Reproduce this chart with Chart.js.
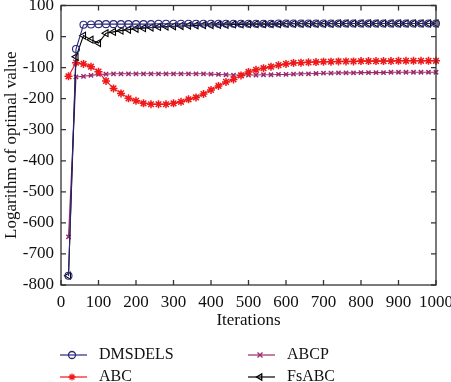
<!DOCTYPE html>
<html>
  <head>
    <title>Convergence</title>
    <script src="https://cdn.jsdelivr.net/npm/chart.js"></script>
    <style>
      html, body { margin: 0; padding: 0; background: #fff; }
      .grafico { width: 451px; height: 382px; }
    </style>
  </head>

  <body>
    <div class="grafico">
      <canvas id="convergencia"></canvas>
    </div>

    <script>
      var iteracoes = [20, 40, 60, 80, 100, 120, 140, 160, 180, 200,
        220, 240, 260, 280, 300, 320, 340, 360, 380, 400,
        420, 440, 460, 480, 500, 520, 540, 560, 580, 600,
        620, 640, 660, 680, 700, 720, 740, 760, 780, 800,
        820, 840, 860, 880, 900, 920, 940, 960, 980, 1000];

      var dmsdels = [-770, -40, 38, 39, 40, 40, 40, 40, 40, 40,
        40, 40, 41, 41, 41, 41, 41, 41, 41, 41,
        41, 41, 41, 41, 41, 41, 41, 41, 42, 42,
        42, 42, 42, 42, 42, 42, 42, 42, 42, 42,
        42, 42, 42, 42, 42, 42, 42, 42, 42, 42];

      var abc = [-128, -84, -88, -97, -113, -143, -167, -183, -199, -207,
        -215, -218, -218, -218, -215, -210, -202, -196, -185, -172,
        -159, -146, -138, -125, -114, -107, -102, -97, -92, -88,
        -85, -84, -83, -82, -81, -81, -80, -80, -80, -79,
        -79, -79, -79, -79, -78, -78, -78, -78, -78, -78];

      var abcp = [-645, -130, -128, -125, -122, -121, -120, -120, -120, -120,
        -120, -120, -120, -120, -120, -120, -120, -120, -120, -121,
        -122, -123, -124, -124, -124, -124, -123, -123, -122, -122,
        -121, -120, -120, -119, -118, -118, -117, -117, -117, -116,
        -116, -116, -116, -115, -115, -115, -115, -115, -115, -115];

      var fsabc = [-770, -65, 3, -10, -21, 11, 15, 19, 22, 25,
        27, 29, 31, 32, 33, 34, 35, 36, 37, 37,
        38, 38, 39, 39, 40, 40, 40, 40, 40, 41,
        41, 41, 41, 41, 41, 41, 42, 42, 42, 42,
        42, 42, 42, 42, 42, 42, 42, 42, 42, 42];

      var xTicks = [0, 100, 200, 300, 400, 500, 600, 700, 800, 900, 1000];
      var yTicks = [100, 0, -100, -200, -300, -400, -500, -600, -700, -800];

      var fonte = "'Liberation Serif', 'DejaVu Serif', serif";

      function pontos(valores) {
        return valores.map((v, i) => ({ x: iteracoes[i], y: v }));
      }

      // ticks para dentro nos quatro lados + caixa
      var moldura = {
        id: "moldura",
        afterDraw(chart) {
          var ctx = chart.ctx;
          var a = chart.chartArea;
          var sx = chart.scales.x;
          var sy = chart.scales.y;
          ctx.save();
          ctx.strokeStyle = "#333";
          ctx.lineWidth = 1.3;
          ctx.strokeRect(a.left, a.top, a.right - a.left, a.bottom - a.top);
          ctx.beginPath();
          xTicks.forEach((t) => {
            var px = sx.getPixelForValue(t);
            ctx.moveTo(px, a.bottom);
            ctx.lineTo(px, a.bottom - 5);
            ctx.moveTo(px, a.top);
            ctx.lineTo(px, a.top + 5);
          });
          yTicks.forEach((t) => {
            var py = sy.getPixelForValue(t);
            ctx.moveTo(a.left, py);
            ctx.lineTo(a.left + 5, py);
            ctx.moveTo(a.right, py);
            ctx.lineTo(a.right - 5, py);
          });
          ctx.stroke();

          // legenda em duas colunas
          var itens = [
            { ds: 0, x: 60, y: 355 },
            { ds: 2, x: 248, y: 355 },
            { ds: 1, x: 60, y: 377 },
            { ds: 3, x: 248, y: 377 },
          ];
          ctx.font = "16px " + fonte;
          ctx.textBaseline = "middle";
          ctx.textAlign = "left";
          itens.forEach((it) => {
            var d = chart.data.datasets[it.ds];
            ctx.strokeStyle = d.borderColor;
            ctx.lineWidth = 1.2;
            ctx.beginPath();
            ctx.moveTo(it.x, it.y);
            ctx.lineTo(it.x + 27, it.y);
            ctx.stroke();
            ctx.fillStyle = d.pointBackgroundColor;
            ctx.lineWidth = 1.3;
            Chart.helpers.drawPoint(ctx, {
              pointStyle: d.pointStyle,
              radius: 3.5,
              rotation: d.pointRotation || 0,
              borderWidth: 1.3,
            }, it.x + 12, it.y);
            ctx.fillStyle = "#111";
            ctx.fillText(d.label, it.x + 39, it.y);
          });
          ctx.restore();
        },
      };

      var grafico = new Chart(document.getElementById("convergencia"), {
        type: "line",
        data: {
          datasets: [
            {
              label: "DMSDELS",
              data: pontos(dmsdels),
              borderColor: "#2a2878",
              pointBorderColor: "#2a2878",
              pointBackgroundColor: "rgba(255,255,255,0)",
              pointStyle: "circle",
              pointRadius: 3.5,
              borderWidth: 1.1,
              order: 1,
            },
            {
              label: "ABC",
              data: pontos(abc),
              borderColor: "#f01818",
              pointBorderColor: "#f01818",
              pointBackgroundColor: "#f01818",
              pointStyle: "star",
              pointRadius: 4,
              pointBorderWidth: 1.5,
              borderWidth: 1.1,
              order: 3,
            },
            {
              label: "ABCP",
              data: pontos(abcp),
              borderColor: "#9a2a6c",
              pointBorderColor: "#9a2a6c",
              pointBackgroundColor: "#9a2a6c",
              pointStyle: "crossRot",
              pointRadius: 3,
              pointBorderWidth: 1.5,
              borderWidth: 1.1,
              order: 4,
            },
            {
              label: "FsABC",
              data: pontos(fsabc),
              borderColor: "#000",
              pointBorderColor: "#000",
              pointBackgroundColor: "rgba(255,255,255,0)",
              pointStyle: "triangle",
              pointRotation: -90,
              pointRadius: 4,
              borderWidth: 1.1,
              order: 2,
            },
          ],
        },
        options: {
          responsive: true,
          maintainAspectRatio: false,
          animation: false,
          layout: { padding: { top: 5, right: 15, bottom: 47, left: 0 } },
          elements: { line: { tension: 0 } },
          datasets: { line: { clip: false } },
          scales: {
            x: {
              type: "linear",
              min: 0,
              max: 1000,
              afterBuildTicks: (s) => { s.ticks = xTicks.map((v) => ({ value: v })); },
              afterFit: (s) => { s.height = 50; s.paddingLeft = 0; s.paddingRight = 0; },
              grid: { display: false, drawTicks: false },
              border: { display: false },
              ticks: {
                color: "#111",
                padding: 7,
                maxRotation: 0,
                autoSkip: false,
                callback: (v) => String(v),
                font: { family: fonte, size: 17 },
              },
              title: {
                display: true,
                text: "Iterations",
                color: "#111",
                padding: { top: 0, bottom: 4 },
                font: { family: fonte, size: 17 },
              },
            },
            y: {
              min: -800,
              max: 100,
              afterBuildTicks: (s) => { s.ticks = yTicks.map((v) => ({ value: v })); },
              afterFit: (s) => { s.width = 61; s.paddingTop = 0; s.paddingBottom = 0; },
              grid: { display: false, drawTicks: false },
              border: { display: false },
              ticks: {
                color: "#111",
                padding: 7,
                autoSkip: false,
                callback: (v) => String(v),
                font: { family: fonte, size: 17 },
              },
              title: {
                display: true,
                text: "Logarithm of optimal value",
                color: "#111",
                padding: { top: 1, bottom: 0 },
                font: { family: fonte, size: 17 },
              },
            },
          },
          plugins: {
            legend: { display: false },
            tooltip: { enabled: false },
          },
        },
        plugins: [moldura],
      });
    </script>
  </body>
</html>
